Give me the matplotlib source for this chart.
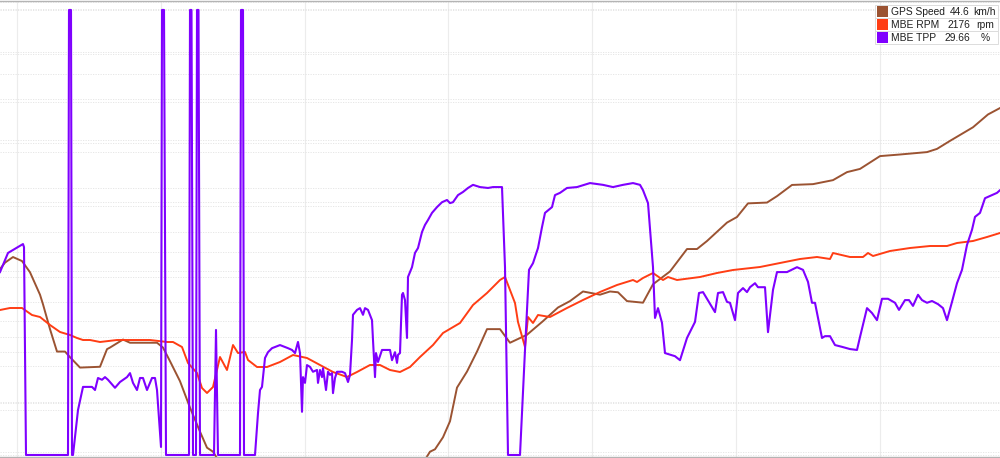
import numpy as np
import matplotlib
matplotlib.use("Agg")
import matplotlib.pyplot as plt
from matplotlib.lines import Line2D
from matplotlib.patches import Rectangle
from matplotlib.transforms import blended_transform_factory

# ---------------- data (time in s) ----------------
speed_t = [0.0, 0.5, 1.3, 2.2, 3.0, 4.0, 4.3, 5.0, 5.7, 6.5, 7.0, 8.0, 10.0, 10.7, 11.0, 12.3, 13.0,
           15.7, 16.3, 17.0, 18.0, 19.0, 20.0, 20.7, 21.3, 21.8, 42.5,
           43.0, 43.5, 44.3, 45.0, 45.7, 46.7, 47.7, 48.7, 49.3, 50.0, 51.0, 52.7, 54.3, 55.8, 57.0,
           58.3, 60.0, 61.0, 61.8, 62.7, 64.3, 65.3, 67.0, 68.7, 69.7, 70.7, 72.7, 73.7, 74.8, 76.7,
           77.7, 79.2, 81.3, 83.3, 84.7, 86.0, 88.0, 90.0, 92.7, 93.7, 95.0, 97.3, 98.8, 100.0]
speed_kmh = [23.8, 24.6, 25.3, 24.8, 23.4, 20.6, 19.4, 16.3, 13.5, 13.5, 12.8, 11.5, 11.6, 13.8, 14.0, 15.0, 14.6,
             14.6, 14.0, 12.3, 9.8, 6.5, 3.5, 1.5, 1.0, 0.0, 0.0,
             1.0, 1.3, 2.8, 4.8, 9.0, 11.0, 13.5, 16.3, 16.3, 16.3, 14.6, 15.6, 17.3, 19.0, 19.8,
             21.0, 20.6, 21.0, 20.9, 19.8, 19.6, 21.9, 23.5, 26.3, 26.3, 27.3, 29.6, 30.3, 32.0, 32.1,
             32.9, 34.3, 34.4, 34.9, 35.9, 36.3, 37.9, 38.1, 38.4, 38.8, 39.8, 41.5, 43.1, 43.9]

rpm_t = [0.0, 1.0, 2.2, 3.2, 4.0, 5.0, 6.0, 7.0, 7.7, 8.3, 9.0, 10.0, 11.7, 13.3, 15.0, 16.7, 17.3,
         18.2, 18.8, 19.7, 20.2, 20.7, 21.3, 22.0, 22.7, 23.3, 23.8, 24.5, 24.8, 25.7, 26.7, 28.0,
         29.3, 30.7, 32.0, 33.3, 34.7, 35.7, 37.0, 38.0, 39.0, 40.0, 41.0, 42.0, 43.3, 44.3, 46.0,
         47.3, 48.7, 50.0, 50.5, 51.0, 51.5, 51.8, 52.5, 52.8, 53.3, 53.8, 55.0, 56.7, 58.3, 60.0,
         61.7, 63.3, 63.7, 64.3, 65.3, 66.3, 66.8, 67.7, 70.0, 71.7, 73.3, 76.0, 78.0, 80.0, 81.7,
         83.0, 83.3, 85.0, 86.3, 86.8, 87.3, 89.0, 91.0, 93.0, 94.7, 95.7, 97.3, 98.7, 100.0]
rpm_val = [1520, 1536, 1536, 1480, 1464, 1400, 1344, 1320, 1296, 1280, 1280, 1264, 1280, 1280, 1280, 1264, 1264,
           1224, 1096, 1016, 896, 856, 904, 1144, 1040, 1240, 1176, 1184, 1120, 1064, 1064, 1104,
           1160, 1136, 1080, 1024, 984, 1024, 1080, 1080, 1040, 1024, 1064, 1144, 1240, 1336, 1416,
           1560, 1656, 1760, 1784, 1680, 1576, 1424, 1224, 1464, 1416, 1480, 1464, 1536, 1600, 1664,
           1720, 1760, 1744, 1776, 1816, 1760, 1784, 1760, 1784, 1816, 1840, 1864, 1896, 1928, 1944,
           1928, 1976, 1944, 1944, 1976, 1952, 1992, 2016, 2032, 2032, 2056, 2072, 2104, 2136]

tpp_t = [0.0, 0.8, 2.3, 2.4, 2.6, 6.8, 6.9, 7.1, 7.2, 7.3, 7.8, 8.3, 9.2, 9.5, 9.8, 10.2, 10.5, 10.8,
         11.5, 12.0, 12.7, 13.0, 13.3, 13.7, 14.0, 14.3, 14.7, 15.2, 15.5, 15.7, 16.1, 16.2, 16.4,
         16.6, 18.9, 19.0, 19.15, 19.3, 19.6, 19.7, 19.85, 20.0, 21.4, 21.6, 21.8, 24.0, 24.1, 24.3,
         24.4, 25.5, 25.8, 26.0, 26.2, 26.5, 26.8, 27.2, 28.0, 28.8, 29.2, 29.5, 29.8, 30.0, 30.2,
         30.3, 30.5, 30.7, 31.0, 31.3, 31.7, 31.8, 32.0, 32.2, 32.3, 32.6, 32.8, 33.0, 33.2, 33.3,
         33.5, 33.7, 34.2, 34.5, 34.8, 35.0, 35.2, 35.3, 35.7, 36.0, 36.3, 36.5, 36.8, 37.2, 37.3,
         37.5, 37.6, 37.8, 38.2, 39.0, 39.2, 39.5, 39.7, 39.8, 40.0, 40.2, 40.3, 40.5, 40.7, 40.8,
         41.2, 41.5, 41.8, 42.2, 42.5, 42.8, 43.2, 43.7, 44.2, 44.7, 45.0, 45.3, 45.8, 46.3, 46.8,
         47.3, 48.0, 48.8, 49.3, 50.2, 50.5, 50.8, 52.0, 52.5, 52.9, 53.3, 53.8, 54.2, 54.5, 55.2,
         55.5, 56.0, 56.7, 57.7, 59.0, 60.3, 61.3, 62.3, 63.3, 64.0, 64.3, 64.8, 65.3, 65.5, 65.8,
         66.2, 66.5, 67.5, 68.0, 68.7, 69.5, 69.9, 70.3, 71.5, 71.8, 72.3, 72.7, 73.0, 73.5, 73.8,
         74.3, 74.7, 75.0, 75.5, 75.8, 76.5, 76.8, 77.3, 77.7, 78.7, 79.7, 80.3, 80.8, 81.2, 81.5,
         82.2, 82.5, 83.0, 83.5, 84.2, 85.0, 85.7, 86.0, 86.7, 87.2, 87.7, 88.2, 88.8, 89.5, 89.9,
         90.5, 90.9, 91.3, 91.8, 92.2, 92.7, 93.2, 93.8, 94.3, 94.7, 95.2, 95.7, 96.2, 96.7, 97.2,
         97.5, 98.0, 98.5, 99.2, 99.7, 100.0]
tpp_pct = [41.1, 45.4, 47.4, 46.7, 0, 0, 100, 100, 0, 0, 10.1, 15.3, 15.3, 14.6, 17.3, 16.9, 17.5, 16.9,
           15.1, 16.4, 17.5, 18.4, 16.2, 14.6, 17.3, 17.3, 14.6, 17.3, 17.3, 14.6, 1.8, 100, 100,
           0, 0, 100, 100, 0, 0, 100, 100, 0, 0, 28.1, 0, 0, 100, 100,
           0, 0, 9.4, 14.6, 15.3, 21.8, 23.1, 24.0, 24.7, 24.0, 23.6, 22.9, 25.4, 22.9, 9.7,
           17.5, 16.2, 20.2, 19.8, 18.7, 19.1, 16.2, 19.1, 17.5, 19.5, 14.6, 18.7, 18.0, 18.4, 13.9,
           17.3, 18.7, 18.7, 18.4, 16.4, 18.0, 25.8, 31.5, 32.6, 33.0, 31.5, 33.0, 32.6, 30.3, 25.8,
           17.5, 22.9, 20.9, 23.6, 23.6, 21.3, 23.1, 20.7, 22.5, 22.9, 36.0, 36.4, 34.8, 26.3, 40.0,
           42.2, 45.4, 46.5, 50.1, 51.7, 52.8, 54.4, 55.7, 56.8, 57.3, 56.6, 56.8, 58.4, 59.1, 60.0,
           60.7, 60.2, 60.0, 60.2, 60.2, 42.2, 0, 0, 23.6, 41.6, 43.1, 46.5, 51.2, 54.4, 55.7,
           58.4, 58.9, 60.0, 60.2, 61.1, 60.7, 60.2, 60.7, 61.1, 60.7, 59.5, 56.6, 42.2, 30.8, 33.0,
           29.7, 22.9, 22.2, 21.3, 26.3, 29.9, 36.4, 36.6, 32.1, 36.4, 36.6, 34.4, 34.2, 30.3, 36.4,
           37.5, 36.6, 37.7, 38.6, 37.7, 37.7, 27.6, 37.1, 41.1, 41.1, 42.2, 41.6, 38.9, 34.2, 34.2,
           26.3, 26.7, 26.7, 24.7, 24.3, 23.8, 23.6, 26.5, 33.0, 31.9, 30.3, 35.1, 35.1, 34.2, 32.6,
           34.8, 34.8, 33.5, 36.0, 34.8, 34.2, 34.6, 33.9, 33.0, 30.3, 34.4, 38.6, 41.6, 47.2, 50.6,
           53.5, 54.4, 57.7, 58.4, 58.9, 59.5]

legend_names = ["GPS Speed", "MBE RPM", "MBE TPP"]
legend_values = ["44.6", "2176", "29.66"]
legend_units = ["km/h", "rpm", "%"]

# ---------------- style ----------------
C_SPEED = "#9B5332"
C_RPM = "#FF3D14"
C_TPP = "#7F00FF"
W, H = 1000, 458
plt.rcParams["font.family"] = ["Liberation Sans", "DejaVu Sans"]

fig = plt.figure(figsize=(W / 100, H / 100), dpi=100)
fig.patch.set_facecolor("white")
ax = fig.add_axes([0, 1.5 / H, 1, 455 / H])
ax2 = ax.twinx()
ax3 = ax.twinx()

ax.set_xlim(0, 100)
ax.set_ylim(0.4, 57.2)
ax2.set_ylim(348, 3988)
ax3.set_ylim(-0.34, 101.9)

for a in (ax, ax2, ax3):
    a.set_xticks([])
    a.set_yticks([])
    for s in ("left", "right"):
        a.spines[s].set_visible(False)
    for s in ("top", "bottom"):
        a.spines[s].set_visible(a is ax3)
        a.spines[s].set_color("#b4b4b4")
        a.spines[s].set_linewidth(1.0)
        a.spines[s].set_zorder(10)

# grid (drawn on base axes, below the data)
for xv in np.arange(1.7, 100, 14.38):
    ax.axvline(xv, color="#ececec", lw=0.8, zorder=0)
grid_sets = [
    (ax3, np.arange(0, 101, 10)),
    (ax2, np.arange(384, 4000, 400)),
    (ax, np.arange(7.1, 57, 8.2)),
]
for a, ticks in grid_sets:
    tr = blended_transform_factory(ax.transAxes, a.transData)
    for yv in ticks:
        ax.add_line(Line2D([0, 1], [yv, yv], transform=tr, color="#e3e3e3",
                           lw=0.6, ls=(0, (1.5, 1.5)), zorder=0.5))

ax.plot(speed_t, speed_kmh, color=C_SPEED, lw=1.4, zorder=2)
ax2.plot(rpm_t, rpm_val, color=C_RPM, lw=1.4, zorder=2)
ax3.plot(tpp_t, tpp_pct, color=C_TPP, lw=1.5, zorder=2)

# ---------------- legend box (top right) ----------------
colors = [C_SPEED, C_RPM, C_TPP]
row_top = [6, 19, 32]
for i in range(3):
    y0 = row_top[i]
    fig.patches.append(Rectangle((875 / W, 1 - (y0 + 12) / H), 123 / W, 12.5 / H,
                                 transform=fig.transFigure, facecolor="white",
                                 edgecolor="#dcdcdc", lw=0.7, zorder=20))
    fig.patches.append(Rectangle((877 / W, 1 - (y0 + 11) / H), 11 / W, 10.5 / H,
                                 transform=fig.transFigure, facecolor=colors[i],
                                 edgecolor="none", zorder=21))
    yc = 1 - (y0 + 6) / H
    fig.text(891 / W, yc, legend_names[i], fontsize=7.4, va="center", ha="left",
             color="#202020", zorder=22)
    fig.text(970 / W, yc, legend_values[i], fontsize=7.4, va="center", ha="right",
             color="#202020", zorder=22)
    fig.text(985 / W, yc, legend_units[i], fontsize=7.4, va="center", ha="center",
             color="#202020", zorder=22)

fig.savefig("out.png", dpi=100, facecolor="white")
